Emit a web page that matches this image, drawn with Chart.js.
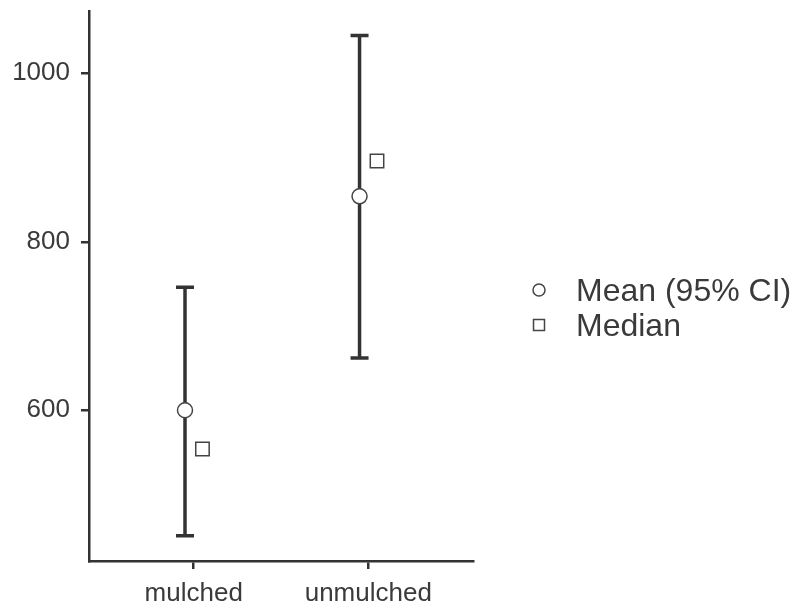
<!DOCTYPE html>
<html>
<head>
<meta charset="utf-8">
<script src="https://cdn.jsdelivr.net/npm/chart.js@4/dist/chart.umd.min.js"></script>
<style>
  html, body { margin: 0; padding: 0; background: #fff; }
  #wrap { width: 801px; height: 609px; }
</style>
</head>
<body>
<div id="wrap"><canvas id="chart" width="801" height="609"></canvas></div>
<script>
// Values
const categories = ['mulched', 'unmulched'];
const meanValues = [600, 854];
const ciLower = [451, 662];
const ciUpper = [746, 1045];
const medianValues = [554, 896];
const yTicks = [600, 800, 1000];

const legendLabels = ['Mean (95% CI)', 'Median'];

const ink = '#333333';
const textColor = '#3a3a3a';
const fontFamily = '"Liberation Sans", Arial, Helvetica, sans-serif';
const dodge = 0.05; // side shift of mean / median around each category

// error bars behind the points
const errorBars = {
  id: 'errorBars',
  beforeDatasetsDraw(chart) {
    const ctx = chart.ctx;
    const xs = chart.scales.x, ys = chart.scales.y;
    ctx.save();
    ctx.strokeStyle = ink;
    ctx.lineWidth = 3.5;
    ctx.lineCap = 'butt';
    categories.forEach((c, i) => {
      const x = xs.getPixelForValue(i + 1 - dodge);
      const top = ys.getPixelForValue(ciUpper[i]);
      const bot = ys.getPixelForValue(ciLower[i]);
      ctx.beginPath();
      ctx.moveTo(x, top); ctx.lineTo(x, bot);
      ctx.moveTo(x - 9, top); ctx.lineTo(x + 9, top);
      ctx.moveTo(x - 9, bot); ctx.lineTo(x + 9, bot);
      ctx.stroke();
    });
    ctx.restore();
  }
};

// legend on the right, drawn by hand
const sideLegend = {
  id: 'sideLegend',
  afterDraw(chart) {
    const ctx = chart.ctx;
    const x0 = 539, y0 = 290, step = 35;
    ctx.save();
    ctx.strokeStyle = '#444';
    ctx.fillStyle = '#fff';
    ctx.lineWidth = 1.5;
    ctx.beginPath();
    ctx.arc(x0, y0, 6, 0, Math.PI * 2);
    ctx.fill(); ctx.stroke();
    ctx.beginPath();
    ctx.rect(x0 - 5.5, y0 + step - 5.5, 11, 11);
    ctx.fill(); ctx.stroke();
    ctx.fillStyle = textColor;
    ctx.font = '32px ' + fontFamily;
    ctx.textBaseline = 'middle';
    ctx.textAlign = 'left';
    legendLabels.forEach((t, i) => ctx.fillText(t, 576, y0 + 2 + i * step));
    ctx.restore();
  }
};

const ctx = document.getElementById('chart').getContext('2d');
new Chart(ctx, {
  type: 'scatter',
  data: {
    datasets: [
      {
        label: legendLabels[0],
        data: meanValues.map((v, i) => ({ x: i + 1 - dodge, y: v })),
        pointStyle: 'circle',
        pointRadius: 7.5,
        backgroundColor: '#fff',
        borderColor: '#444',
        borderWidth: 1.5
      },
      {
        label: legendLabels[1],
        data: medianValues.map((v, i) => ({ x: i + 1 + dodge, y: v })),
        pointStyle: 'rect',
        pointRadius: 9.5,
        backgroundColor: '#fff',
        borderColor: '#444',
        borderWidth: 1.5
      }
    ]
  },
  options: {
    responsive: false,
    animation: false,
    layout: { padding: { top: 7, right: 328, left: 0, bottom: 0 } },
    plugins: {
      legend: { display: false },
      tooltip: { enabled: false }
    },
    scales: {
      x: {
        type: 'linear',
        min: 0.4,
        max: 2.6,
        afterBuildTicks: scale => { scale.ticks = categories.map((c, i) => ({ value: i + 1 })); },
        afterFit: scale => {
          scale.height = 48;
          scale.paddingLeft = 0;
          scale.paddingRight = 0;
        },
        grid: { drawOnChartArea: false, drawTicks: true, tickLength: 8, color: ink, lineWidth: 2.5 },
        border: { display: true, color: ink, width: 2.5 },
        ticks: {
          padding: 9,
          color: textColor,
          font: { family: fontFamily, size: 26 },
          callback: v => categories[v - 1] || ''
        }
      },
      y: {
        min: 421,
        max: 1074,
        afterBuildTicks: scale => { scale.ticks = yTicks.map(v => ({ value: v })); },
        afterFit: scale => {
          scale.width = 89;
          scale.paddingTop = 0;
          scale.paddingBottom = 0;
        },
        grid: { drawOnChartArea: false, drawTicks: true, tickLength: 8, color: ink, lineWidth: 2.5 },
        border: { display: true, color: ink, width: 2.5 },
        ticks: {
          padding: 11,
          color: textColor,
          font: { family: fontFamily, size: 26 },
          callback: v => String(v)
        }
      }
    }
  },
  plugins: [errorBars, sideLegend]
});
</script>
</body>
</html>
